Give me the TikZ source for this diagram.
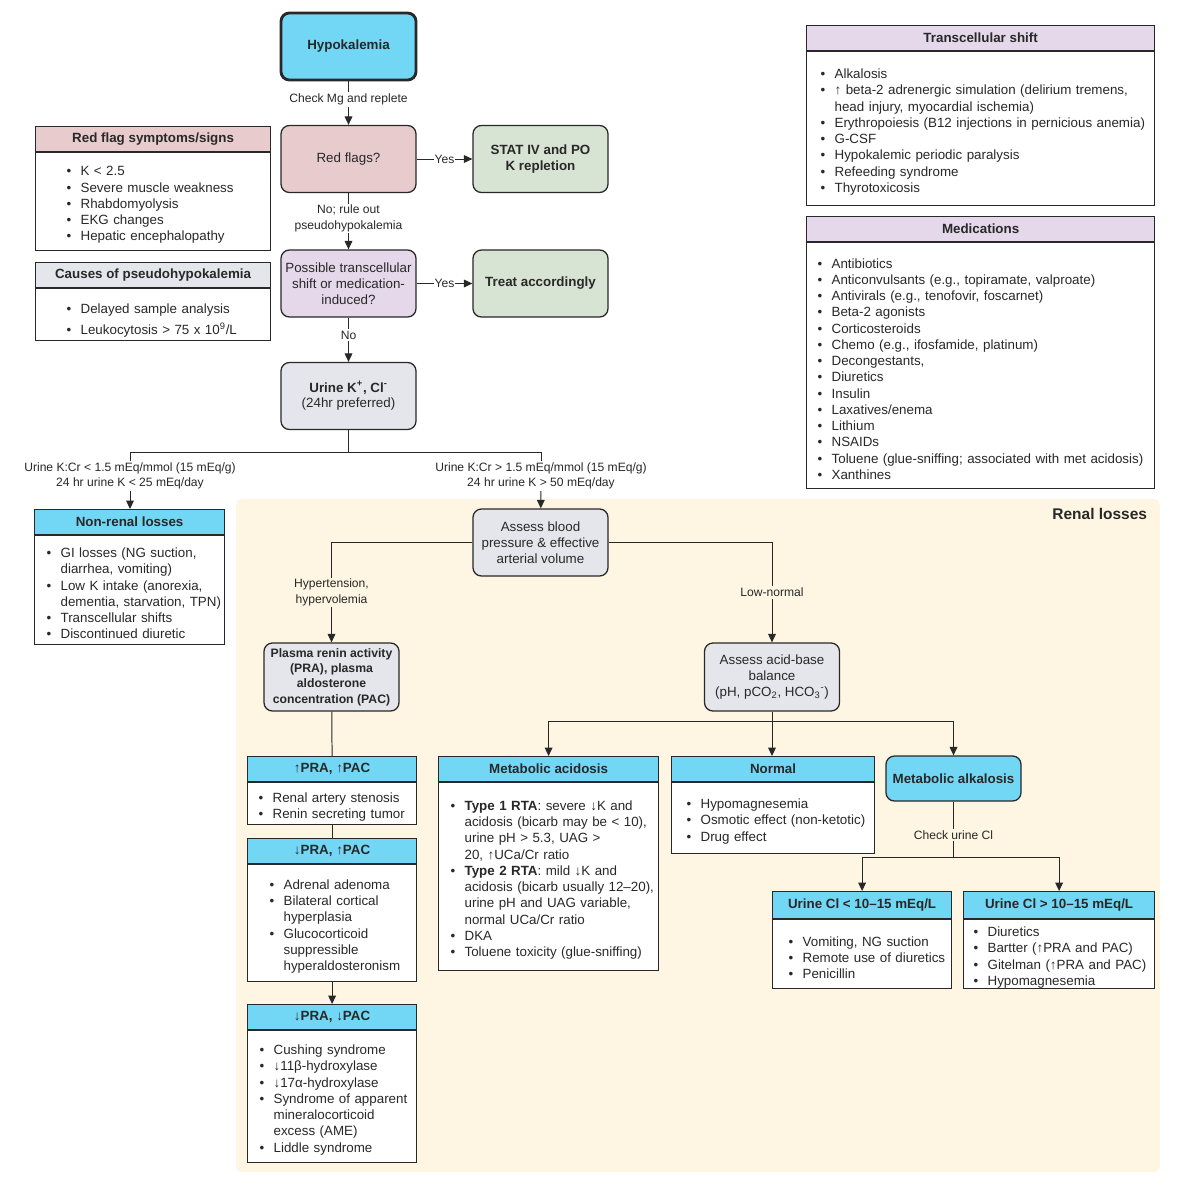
\documentclass[tikz,border=0pt]{standalone}
\usepackage{fontspec}
\setmainfont{Liberation Sans}
\usetikzlibrary{arrows.meta,positioning}

\definecolor{hcyan}{RGB}{114,214,245}
\definecolor{flagpink}{RGB}{232,204,205}
\definecolor{okgreen}{RGB}{215,227,211}
\definecolor{lavender}{RGB}{228,216,234}
\definecolor{boxgray}{RGB}{229,230,235}
\definecolor{cream}{RGB}{254,246,227}
\definecolor{ink}{RGB}{40,40,40}

% list lines: bullet item and continuation
\newcommand{\bul}[1]{\par\noindent\makebox[10pt][l]{\textbullet}\mbox{#1}}
\newcommand{\cnt}[1]{\par\noindent\hspace*{10pt}\mbox{#1}}

\begin{document}
\begin{tikzpicture}[x=0.025cm,y=-0.025cm,
  >={Triangle[length=6pt,width=5.5pt]},
  flow/.style={draw=ink, line width=0.9pt, rounded corners=6pt, minimum width=3.375cm,
    minimum height=1.675cm, align=center, text=ink, inner sep=2pt,
    font=\fontsize{9.5}{11.3}\selectfont},
  strong/.style={font=\bfseries\fontsize{9.5}{11.3}\selectfont},
  hdr/.style={draw=ink, line width=0.8pt, fill=hcyan, anchor=north west, minimum height=0.625cm,
    inner sep=0pt, text=ink, font=\bfseries\fontsize{9.5}{11.5}\selectfont},
  lst/.style={draw=ink, line width=0.8pt, fill=white, anchor=north, align=left, text=ink,
    inner ysep=0pt, font=\fontsize{9.5}{11.55}\selectfont},
  lbl/.style={fill=white, inner sep=1.2pt, align=center, text=ink,
    font=\fontsize{8.6}{10.8}\selectfont},
  wire/.style={draw=ink, line width=0.7pt}]
\useasboundingbox (0,0) rectangle (1200,1185);

% renal losses area
\fill[cream, rounded corners=4pt] (236,499) rectangle (1160,1172);
\node[anchor=east, text=ink, font=\bfseries\fontsize{11}{13}\selectfont] (renal) at (1152,514) {Renal losses};

% main column
\node[flow, fill=hcyan, line width=2pt, strong] (hypo) at (348.5,46.5) {Hypokalemia};
\node[flow, fill=flagpink] (redq) at (348.5,159) {Red flags?};
\node[flow, fill=okgreen, strong] (stat) at (540.5,159) {STAT IV and PO\\K repletion};
\node[flow, fill=lavender] (shiftq) at (348.5,283.5) {Possible transcellular\\shift or medication-\\induced?};
\node[flow, fill=okgreen, strong] (treat) at (540.5,283.5) {Treat accordingly};
\node[flow, fill=boxgray] (urine) at (348.5,396) {\textbf{Urine K\textsuperscript{+}, Cl\textsuperscript{-}}\\(24hr preferred)};

\draw[wire,->] (hypo) -- node[lbl, pos=0.42] {Check Mg and replete} (redq);
\draw[wire,->] (redq) -- node[lbl, inner xsep=0.5pt] {Yes} (stat);
\draw[wire,->] (redq) -- node[lbl, pos=0.45] {No; rule out\\pseudohypokalemia} (shiftq);
\draw[wire,->] (shiftq) -- node[lbl, inner xsep=0.5pt] {Yes} (treat);
\draw[wire,->] (shiftq) -- node[lbl, pos=0.4] {No} (urine);

% side lists
\node[hdr, fill=flagpink, minimum width=5.875cm] (rfhdr) at (35,126) {Red flag symptoms/signs};
\node[lst, inner xsep=0.775cm, text width=4.325cm, minimum height=2.45cm] (rfbody) at (rfhdr.south) {%
  \bul{K < 2.5}\bul{Severe muscle weakness}\bul{Rhabdomyolysis}\bul{EKG changes}\bul{Hepatic encephalopathy}};

\node[hdr, fill=boxgray, minimum width=5.875cm] (pshdr) at (35,262) {Causes of pseudohypokalemia};
\node[lst, inner xsep=0.775cm, text width=4.325cm, minimum height=1.3cm, font=\fontsize{9.5}{15}\selectfont] (psbody) at (pshdr.south) {%
  \bul{Delayed sample analysis}\bul{Leukocytosis > 75 x 10\textsuperscript{9}/L}};

\node[hdr, fill=lavender, minimum width=8.7cm] (tshdr) at (806,25) {Transcellular shift};
\node[lst, inner xsep=0.35cm, text width=8cm, minimum height=3.85cm] (tsbody) at (tshdr.south) {%
  \bul{Alkalosis}
  \bul{↑ beta-2 adrenergic simulation (delirium tremens,}
  \cnt{head injury, myocardial ischemia)}
  \bul{Erythropoiesis (B12 injections in pernicious anemia)}
  \bul{G-CSF}\bul{Hypokalemic periodic paralysis}\bul{Refeeding syndrome}\bul{Thyrotoxicosis}};

\node[hdr, fill=lavender, minimum width=8.7cm] (mdhdr) at (806,216) {Medications};
\node[lst, inner xsep=0.275cm, text width=8.15cm, minimum height=6.15cm] (mdbody) at (mdhdr.south) {%
  \bul{Antibiotics}
  \bul{Anticonvulsants (e.g., topiramate, valproate)}
  \bul{Antivirals (e.g., tenofovir, foscarnet)}
  \bul{Beta-2 agonists}
  \bul{Corticosteroids}
  \bul{Chemo (e.g., ifosfamide, platinum)}
  \bul{Decongestants,}
  \bul{Diuretics}
  \bul{Insulin}
  \bul{Laxatives/enema}
  \bul{Lithium}
  \bul{NSAIDs}
  \bul{Toluene (glue-sniffing; associated with met acidosis)}
  \bul{Xanthines}};

% urine split
\node[lbl] (lowk) at (130,476) {Urine K:Cr < 1.5 mEq/mmol (15 mEq/g)\\24 hr urine K < 25 mEq/day};
\node[lbl] (highk) at (541,476) {Urine K:Cr > 1.5 mEq/mmol (15 mEq/g)\\24 hr urine K > 50 mEq/day};
\coordinate (ksplit) at (348.5,452);
\draw[wire] (urine) -- (ksplit) -| (lowk.north);
\draw[wire] (ksplit) -| (highk.north);

\node[hdr, minimum width=4.75cm] (nrhdr) at (34,509) {Non-renal losses};
\node[lst, inner xsep=0.3cm, text width=4.15cm, minimum height=2.725cm] (nrbody) at (nrhdr.south) {%
  \bul{GI losses (NG suction,}\cnt{diarrhea, vomiting)}
  \bul{Low K intake (anorexia,}\cnt{dementia, starvation, TPN)}
  \bul{Transcellular shifts}\bul{Discontinued diuretic}};
\draw[wire,->] (lowk.south) -- (lowk.south |- nrhdr.north);

% renal branch
\node[flow, fill=boxgray] (bp) at (540.5,542.5) {Assess blood\\pressure \& effective\\arterial volume};
\draw[wire,->] (highk) -- (bp);
\node[flow, fill=boxgray, minimum height=1.7cm, font=\bfseries\fontsize{8.7}{10.9}\selectfont] (pra) at (331.5,677) {Plasma renin activity\\(PRA), plasma\\aldosterone\\concentration (PAC)};
\node[flow, fill=boxgray, minimum height=1.7cm] (acid) at (772,677) {Assess acid-base\\balance\\(pH, pCO\textsubscript{2}, HCO\textsubscript{3}\textsuperscript{-})};
\draw[wire,->] (bp.west) -| node[lbl, fill=cream, pos=0.75] {Hypertension,\\hypervolemia} (pra.north);
\draw[wire,->] (bp.east) -| node[lbl, fill=cream, pos=0.75] {Low-normal} (acid.north);

% renin / aldosterone column
\node[hdr, minimum width=4.225cm] (uphdr) at (247,756) {↑PRA, ↑PAC};
\node[lst, inner xsep=0.275cm, text width=3.675cm, minimum height=1.05cm] (upbody) at (uphdr.south) {%
  \bul{Renal artery stenosis}\bul{Renin secreting tumor}};
\node[hdr, minimum width=4.225cm] (duhdr) at (247,838) {↓PRA, ↑PAC};
\node[lst, inner xsep=0.55cm, text width=3.125cm, minimum height=2.925cm] (dubody) at (duhdr.south) {%
  \bul{Adrenal adenoma}
  \bul{Bilateral cortical}\cnt{hyperplasia}
  \bul{Glucocorticoid}\cnt{suppressible}\cnt{hyperaldosteronism}};
\node[hdr, minimum width=4.225cm] (ddhdr) at (247,1004) {↓PRA, ↓PAC};
\node[lst, inner xsep=0.3cm, text width=3.625cm, minimum height=3.3cm] (ddbody) at (ddhdr.south) {%
  \bul{Cushing syndrome}
  \bul{↓11β-hydroxylase}
  \bul{↓17α-hydroxylase}
  \bul{Syndrome of apparent}\cnt{mineralocorticoid}\cnt{excess (AME)}
  \bul{Liddle syndrome}};
\draw[wire] (pra) -- (uphdr.north);
\draw[wire] (upbody.south) -- (duhdr.north);
\draw[wire,->] (dubody.south) -- (ddhdr.north);

% acid-base column
\node[hdr, minimum width=5.5cm] (mahdr) at (438,756) {Metabolic acidosis};
\node[lst, inner xsep=0.3cm, text width=4.9cm, minimum height=4.7cm] (mabody) at (mahdr.south) {%
  \bul{\textbf{Type 1 RTA}: severe ↓K and}
  \cnt{acidosis (bicarb may be < 10),}
  \cnt{urine pH > 5.3, UAG >}
  \cnt{20, ↑UCa/Cr ratio}
  \bul{\textbf{Type 2 RTA}: mild ↓K and}
  \cnt{acidosis (bicarb usually 12–20),}
  \cnt{urine pH and UAG variable,}
  \cnt{normal UCa/Cr ratio}
  \bul{DKA}
  \bul{Toluene toxicity (glue-sniffing)}};
\node[hdr, minimum width=5.075cm] (nmhdr) at (671,756) {Normal};
\node[lst, inner xsep=0.375cm, text width=4.325cm, minimum height=1.775cm] (nmbody) at (nmhdr.south) {%
  \bul{Hypomagnesemia}\bul{Osmotic effect (non-ketotic)}\bul{Drug effect}};
\node[flow, fill=hcyan, strong, minimum height=1.125cm] (alk) at (953.5,778.5) {Metabolic alkalosis};

\coordinate (absplit) at (772,721);
\draw[wire] (acid) -- (absplit);
\draw[wire,->] (absplit) -| (mahdr.north);
\draw[wire,->] (absplit) -- (absplit |- nmhdr.north);
\draw[wire,->] (absplit) -| (alk.north);

% urine chloride
\node[hdr, minimum width=4.475cm, minimum height=0.675cm] (lohdr) at (772,891) {Urine Cl < 10–15 mEq/L};
\node[lst, inner xsep=0.4cm, text width=3.675cm, minimum height=1.725cm] (lobody) at (lohdr.south) {%
  \bul{Vomiting, NG suction}\bul{Remote use of diuretics}\bul{Penicillin}};
\node[hdr, minimum width=4.775cm, minimum height=0.675cm] (hihdr) at (963,891) {Urine Cl > 10–15 mEq/L};
\node[lst, inner xsep=0.25cm, text width=4.275cm, minimum height=1.725cm] (hibody) at (hihdr.south) {%
  \bul{Diuretics}\bul{Bartter (↑PRA and PAC)}\bul{Gitelman (↑PRA and PAC)}\bul{Hypomagnesemia}};

\coordinate (clsplit) at (953.5,857);
\draw[wire] (alk) -- node[lbl, fill=cream, pos=0.6] {Check urine Cl} (clsplit);
\draw[wire,->] (clsplit) -| (lohdr.north);
\draw[wire,->] (clsplit) -| (hihdr.north);
\end{tikzpicture}
\end{document}
